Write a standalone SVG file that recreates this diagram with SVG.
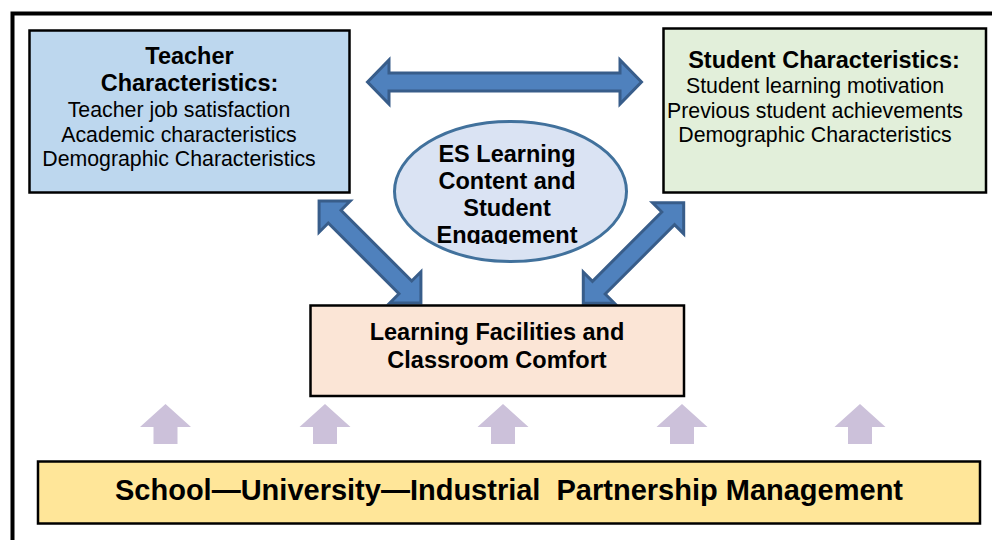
<svg xmlns="http://www.w3.org/2000/svg" width="992" height="540" viewBox="0 0 992 540">
  <style>
    .box { stroke: #000; stroke-width: 2.5; }
    .bold { font-family: "Liberation Sans", Arial, sans-serif; font-weight: bold; fill: #000; text-anchor: middle; }
    .reg { font-family: "Liberation Sans", Arial, sans-serif; fill: #000; text-anchor: middle; }
    .dbl { fill: #4F81BD; stroke: #385D8A; stroke-width: 3; stroke-linejoin: miter; }
    .up { fill: #CCC1DA; }
  </style>
  <defs>
    <clipPath id="ovalTextClip">
      <rect x="380" y="120" width="260" height="124"/>
    </clipPath>
    <!-- upward block arrow, tip at origin -->
    <polygon id="upArrow" points="0,0 25.5,23 12,23 12,40 -12,40 -12,23 -25.5,23"/>
  </defs>

  <rect width="992" height="540" fill="#fff"/>

  <!-- outer frame -->
  <rect x="12.5" y="13.5" width="1000" height="560" fill="none" stroke="#000" stroke-width="4"/>

  <!-- connectors -->
  <g id="connectors">
    <!-- teacher <-> student -->
    <polygon class="dbl" transform="translate(504.5 82)"
      points="-137,0 -115.5,-22 -115.5,-9 115.5,-9 115.5,-22 137,0 115.5,22 115.5,9 -115.5,9 -115.5,22"/>
    <!-- teacher <-> facilities -->
    <polygon class="dbl" transform="translate(370 252) rotate(45)"
      points="-72,0 -50,-22 -50,-9 50,-9 50,-22 72,0 50,22 50,9 -50,9 -50,22"/>
    <!-- student <-> facilities -->
    <polygon class="dbl" transform="translate(633.5 253) rotate(-45)"
      points="-71,0 -49,-22 -49,-9 49,-9 49,-22 71,0 49,22 49,9 -49,9 -49,22"/>
    <!-- partnership support arrows -->
    <use href="#upArrow" class="up" x="165.5" y="404"/>
    <use href="#upArrow" class="up" x="325" y="404"/>
    <use href="#upArrow" class="up" x="503" y="404"/>
    <use href="#upArrow" class="up" x="682" y="404"/>
    <use href="#upArrow" class="up" x="860" y="404"/>
  </g>

  <g id="teacher">
    <rect class="box" x="29.5" y="30.5" width="320" height="162" fill="#BDD7EE"/>
    <text class="bold" font-size="23.5" x="189.5" y="64">Teacher</text>
    <text class="bold" font-size="23.5" x="189.5" y="91">Characteristics:</text>
    <text class="reg" font-size="21.3" x="179" y="117">Teacher job satisfaction</text>
    <text class="reg" font-size="21.3" x="179" y="141.5">Academic characteristics</text>
    <text class="reg" font-size="21.3" x="179" y="166">Demographic Characteristics</text>
  </g>

  <g id="student">
    <rect class="box" x="663.5" y="28.5" width="322.5" height="164" fill="#E2EFDA"/>
    <text class="bold" font-size="23.5" x="824" y="68">Student Characteristics:</text>
    <text class="reg" font-size="21.3" x="815" y="93">Student learning motivation</text>
    <text class="reg" font-size="21.3" x="815" y="117.5">Previous student achievements</text>
    <text class="reg" font-size="21.3" x="815" y="141.5">Demographic Characteristics</text>
  </g>

  <g id="engagement">
    <ellipse cx="510.5" cy="191.5" rx="116" ry="70" fill="#DAE3F3" stroke="#41719C" stroke-width="3"/>
    <g clip-path="url(#ovalTextClip)">
      <text class="bold" font-size="23.5" x="507" y="162">ES Learning</text>
      <text class="bold" font-size="23.5" x="507" y="189">Content and</text>
      <text class="bold" font-size="23.5" x="507" y="216">Student</text>
      <text class="bold" font-size="23.5" x="507" y="243">Engagement</text>
    </g>
  </g>

  <g id="facilities">
    <rect class="box" x="310.5" y="305.5" width="373.5" height="90.5" fill="#FBE5D6"/>
    <text class="bold" font-size="23.5" x="497" y="340">Learning Facilities and</text>
    <text class="bold" font-size="23.5" x="497" y="368">Classroom Comfort</text>
  </g>

  <g id="partnership">
    <rect class="box" x="38" y="461.5" width="942" height="62" fill="#FFE699"/>
    <text class="bold" font-size="29" x="509" y="500" xml:space="preserve" style="white-space: pre">School—University—Industrial  Partnership Management</text>
  </g>
</svg>
